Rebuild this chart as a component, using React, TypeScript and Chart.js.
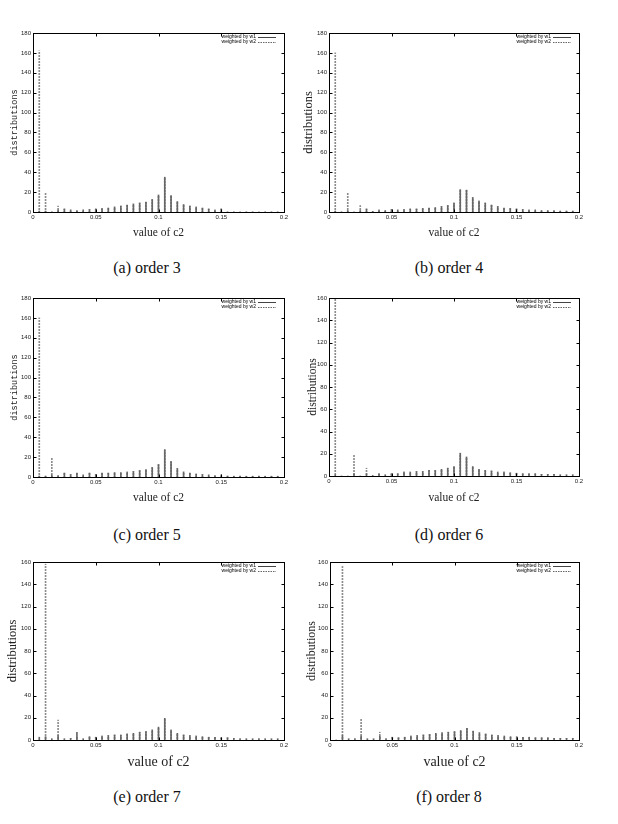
import React, { useEffect, useRef } from "react";
import { Chart, registerables } from "chart.js";

Chart.register(...registerables);

// x positions of the impulses (value of c2)
const c2Values = [
  0.005, 0.01, 0.015, 0.02, 0.025, 0.03, 0.035, 0.04, 0.045, 0.05,
  0.055, 0.06, 0.065, 0.07, 0.075, 0.08, 0.085, 0.09, 0.095, 0.1,
  0.105, 0.11, 0.115, 0.12, 0.125, 0.13, 0.135, 0.14, 0.145, 0.15,
  0.155, 0.16, 0.165, 0.17, 0.175, 0.18, 0.185, 0.19, 0.195,
];

const xTickValues = [0, 0.05, 0.1, 0.15, 0.2];
const yTicks180 = [0, 20, 40, 60, 80, 100, 120, 140, 160, 180];
const yTicks160 = [0, 20, 40, 60, 80, 100, 120, 140, 160];

const seriesLabels = ["weighted by w1", "weighted by w2"];
const xAxisTitle = "value of c2";
const yAxisTitle = "distributions";
const captions = ["(a) order 3", "(b) order 4", "(c) order 5", "(d) order 6", "(e) order 7", "(f) order 8"];

// (a) order 3
const order3W1 = [1, 1, 0, 2, 3, 2, 1.5, 2, 2.5, 3, 3.5, 4, 5, 6, 7, 8, 9, 10, 12.5, 17, 35, 16.5, 10.5, 7.5, 6, 5, 4, 3, 2, 3, 0, 0, 0, 0, 0, 0, 0, 0, 0];
const order3W2 = [162, 19, 0, 6, 3, 2, 1.5, 2, 2.5, 3, 3.5, 4, 5, 6, 7, 8, 9, 10, 12.5, 17, 34, 16.5, 10.5, 7.5, 6, 5, 4, 3, 2, 3, 0, 0, 0, 0, 0, 0, 0, 0, 0];
// (b) order 4
const order4W1 = [1, 0, 1.5, 0, 1.5, 3, 0.5, 2, 1.5, 2.5, 2, 2.5, 3, 3, 3.5, 4, 4.5, 5.5, 6.5, 9, 22.5, 22, 14.5, 11, 9, 7, 5.5, 4, 3.5, 3, 2.5, 2, 2, 1.5, 1.5, 1.5, 1, 1, 1];
const order4W2 = [160, 0, 19, 0, 6.5, 3, 0.5, 2, 1.5, 2.5, 2, 2.5, 3, 3, 3.5, 4, 4.5, 5.5, 6.5, 9, 22, 22, 14.5, 11, 9, 7, 5.5, 4, 3.5, 3, 2.5, 2, 2, 1.5, 1.5, 1.5, 1, 1, 1];
// (c) order 5
const order5W1 = [1, 1, 2, 1.5, 4, 2.5, 4, 2, 4, 2.5, 4, 4, 4.5, 4.5, 5, 5.5, 6.5, 7.5, 9.5, 12.5, 27.5, 15.5, 8.5, 5, 4, 3, 2.5, 2, 1.5, 2, 1, 0.8, 0.8, 0.8, 0.8, 0.8, 0.8, 0.8, 0.8];
const order5W2 = [160, 1, 19, 1.5, 4, 2.5, 4, 2, 4, 2.5, 4, 4, 4.5, 4.5, 5, 5.5, 6.5, 7.5, 9.5, 12.5, 27, 15.5, 8.5, 5, 4, 3, 2.5, 2, 1.5, 2, 1, 0.8, 0.8, 0.8, 0.8, 0.8, 0.8, 0.8, 0.8];
// (d) order 6
const order6W1 = [1, 0, 0, 2, 0, 2, 0.5, 2, 1, 2, 2, 3.5, 3.5, 4, 4, 5, 5, 6, 7, 8.5, 20.5, 17, 8.5, 6, 5, 4.5, 3.5, 3.5, 3, 2.5, 2, 2, 2, 1.5, 1.5, 1.5, 1, 1, 1];
const order6W2 = [160, 0, 0, 18.5, 0, 7, 0.5, 2, 1, 2, 2, 3.5, 3.5, 4, 4, 5, 5, 6, 7, 8.5, 20, 17, 8.5, 6, 5, 4.5, 3.5, 3.5, 3, 2.5, 2, 2, 2, 1.5, 1.5, 1.5, 1, 1, 1];
// (e) order 7
const order7W1 = [2.5, 3, 1, 4, 1, 1.5, 7, 1, 3, 2.5, 3.5, 4, 4.5, 4.5, 5.5, 6, 7, 7.5, 9, 11.5, 19.5, 9, 6, 4.5, 4, 3.5, 3, 2.5, 2.5, 2, 2, 1.5, 1, 1, 1, 1, 1, 1, 1];
const order7W2 = [0, 158, 1, 18, 1, 1.5, 3, 1, 3, 2.5, 3.5, 4, 4.5, 4.5, 5.5, 6, 7, 7.5, 9, 11.5, 19, 9, 6, 4.5, 4, 3.5, 3, 2.5, 2.5, 2, 2, 1.5, 1, 1, 1, 1, 1, 1, 1];
// (f) order 8
const order8W1 = [0, 4, 1, 1, 3.5, 1, 1, 3.5, 1, 2.5, 2, 2.5, 3.5, 4, 4.5, 5, 6, 6.5, 7, 7.5, 8.5, 10.5, 8, 6.5, 5.5, 4.5, 4, 3.5, 3, 3, 2.5, 2.5, 2, 2, 2, 1.5, 1.5, 1.5, 1.5];
const order8W2 = [0, 156, 1, 1, 19, 1, 1, 7, 1, 2.5, 2, 2.5, 3.5, 4, 4.5, 5, 6, 6.5, 7, 7.5, 8, 10.5, 8, 6.5, 5.5, 4.5, 4, 3.5, 3, 3, 2.5, 2.5, 2, 2, 2, 1.5, 1.5, 1.5, 1.5];

type Geom = {
  cl: number; cw: number; l: number; r: number; t: number; b: number;
  yTitleX: number; yFamily: string; ySize: number; xSize: number; xTitleY: number;
  capX: number; capY: number;
};

const panelGeoms: Geom[] = [
  { cl: 0, cw: 300, l: 33, r: 284, t: 33, b: 212, yTitleX: 15, yFamily: "Liberation Mono", ySize: 8.5, xSize: 11.5, xTitleY: 233, capX: 147, capY: 268 },
  { cl: 300, cw: 310, l: 329, r: 579, t: 33, b: 212, yTitleX: 309, yFamily: "Liberation Serif", ySize: 12.5, xSize: 11.5, xTitleY: 233, capX: 449, capY: 268 },
  { cl: 0, cw: 300, l: 33, r: 284, t: 298, b: 477, yTitleX: 15, yFamily: "Liberation Mono", ySize: 8.5, xSize: 11.5, xTitleY: 498, capX: 147, capY: 535 },
  { cl: 300, cw: 310, l: 329, r: 579, t: 298, b: 476, yTitleX: 313, yFamily: "Liberation Serif", ySize: 11.5, xSize: 11.5, xTitleY: 498, capX: 449, capY: 535 },
  { cl: 0, cw: 300, l: 33, r: 284, t: 562, b: 740, yTitleX: 13, yFamily: "Liberation Serif", ySize: 12.5, xSize: 14, xTitleY: 762, capX: 147, capY: 797 },
  { cl: 300, cw: 310, l: 330, r: 579, t: 562, b: 740, yTitleX: 312, yFamily: "Liberation Serif", ySize: 12, xSize: 14, xTitleY: 762, capX: 449, capY: 797 },
];

const panelSeries = [
  { w1: order3W1, w2: order3W2, yTicks: yTicks180 },
  { w1: order4W1, w2: order4W2, yTicks: yTicks180 },
  { w1: order5W1, w2: order5W2, yTicks: yTicks180 },
  { w1: order6W1, w2: order6W2, yTicks: yTicks160 },
  { w1: order7W1, w2: order7W2, yTicks: yTicks160 },
  { w1: order8W1, w2: order8W2, yTicks: yTicks160 },
];

const X_AXIS_H = 45;
const TOP_PAD = 20;

const framePlugin = {
  id: "gnuplotFrame",
  afterDraw(chart: any) {
    const { ctx, chartArea } = chart;
    const { left, right, top, bottom } = chartArea;
    const xs = chart.scales.x;
    const ys = chart.scales.y;
    ctx.save();
    ctx.strokeStyle = "#000";
    ctx.lineWidth = 1;
    const L = Math.round(left) + 0.5, R = Math.round(right) + 0.5, T = Math.round(top) + 0.5, B = Math.round(bottom) + 0.5;
    ctx.strokeRect(L, T, R - L, B - T);
    ctx.beginPath();
    const tl = 3;
    xs.ticks.forEach((tk: any) => {
      const px = Math.round(xs.getPixelForValue(tk.value)) + 0.5;
      ctx.moveTo(px, B); ctx.lineTo(px, B - tl);
      ctx.moveTo(px, T); ctx.lineTo(px, T + tl);
    });
    ys.ticks.forEach((tk: any) => {
      const py = Math.round(ys.getPixelForValue(tk.value)) + 0.5;
      ctx.moveTo(L, py); ctx.lineTo(L + tl, py);
      ctx.moveTo(R, py); ctx.lineTo(R - tl, py);
    });
    ctx.stroke();

    // legend (gnuplot style, top-right inside the frame)
    ctx.font = "5px 'Liberation Sans'";
    ctx.fillStyle = "#000";
    ctx.textAlign = "right";
    ctx.textBaseline = "middle";
    chart.data.datasets.forEach((ds: any, i: number) => {
      const y = top + 4 + i * 4.5;
      ctx.fillText(ds.label, right - 28, y);
      ctx.beginPath();
      ctx.strokeStyle = i === 0 ? "#444" : "#666";
      ctx.setLineDash(i === 0 ? [] : [1.5, 1]);
      ctx.moveTo(right - 26, Math.round(y) + 0.5);
      ctx.lineTo(right - 8, Math.round(y) + 0.5);
      ctx.stroke();
    });
    ctx.restore();
  },
};

function Panel({ idx }: { idx: number }) {
  const ref = useRef<HTMLCanvasElement>(null);
  const g = panelGeoms[idx];
  const s = panelSeries[idx];
  const ch = g.b - g.t + TOP_PAD + X_AXIS_H;
  const ctop = g.t - TOP_PAD;

  useEffect(() => {
    const canvas = ref.current!;
    const pc = document.createElement("canvas");
    pc.width = 1;
    pc.height = 3;
    const pctx = pc.getContext("2d")!;
    pctx.fillStyle = "#8c8c8c";
    pctx.fillRect(0, 0, 1, 2);
    const pattern = canvas.getContext("2d")!.createPattern(pc, "repeat");

    const xLh = g.xSize * 1.2;
    const yLh = g.ySize * 1.2;
    const xTitlePadBottom = (g.b + X_AXIS_H) - g.xTitleY - xLh / 2;
    const yTitlePadTop = g.yTitleX - g.cl - yLh / 2;
    const yMax = s.yTicks[s.yTicks.length - 1];

    const chart = new Chart(canvas, {
      type: "bar",
      data: {
        datasets: [
          {
            label: seriesLabels[0],
            data: c2Values.map((x, i) => ({ x, y: s.w1[i] })),
            backgroundColor: "#666666",
            borderWidth: 0,
            barThickness: 1,
            grouped: false,
            order: 0,
          },
          {
            label: seriesLabels[1],
            data: c2Values.map((x, i) => ({ x, y: s.w2[i] })),
            backgroundColor: pattern as any,
            borderWidth: 0,
            barThickness: 1,
            grouped: false,
            order: 1,
          },
        ],
      } as any,
      options: {
        animation: false,
        responsive: false,
        maintainAspectRatio: false,
        devicePixelRatio: 1,
        layout: { padding: { left: 0, top: TOP_PAD, bottom: 0, right: g.cl + g.cw - g.r } },
        plugins: { legend: { display: false }, tooltip: { enabled: false }, title: { display: false } },
        scales: {
          x: {
            type: "linear",
            min: 0,
            max: 0.2,
            offset: false,
            grid: { display: false, drawTicks: false, offset: false },
            border: { display: false },
            afterBuildTicks: (scale: any) => {
              scale.ticks = xTickValues.map((v) => ({ value: v }));
            },
            afterFit: (scale: any) => {
              scale.height = X_AXIS_H;
            },
            ticks: {
              autoSkip: false,
              maxRotation: 0,
              padding: 2,
              color: "#222",
              font: { family: "'Liberation Sans'", size: 6 },
              callback: (v: any) => String(v),
            },
            title: {
              display: true,
              text: xAxisTitle,
              color: "#222",
              font: { family: "'Liberation Serif'", size: g.xSize },
              padding: { top: 0, bottom: xTitlePadBottom },
            },
          },
          y: {
            type: "linear",
            min: 0,
            max: yMax,
            grid: { display: false, drawTicks: false },
            border: { display: false },
            afterBuildTicks: (scale: any) => {
              scale.ticks = s.yTicks.map((v) => ({ value: v }));
            },
            afterFit: (scale: any) => {
              scale.width = g.l - g.cl;
            },
            ticks: {
              autoSkip: false,
              padding: 2,
              color: "#222",
              font: { family: "'Liberation Sans'", size: 6 },
              callback: (v: any) => String(v),
            },
            title: {
              display: true,
              text: yAxisTitle,
              color: "#222",
              font: { family: `'${g.yFamily}'`, size: g.ySize },
              padding: { top: yTitlePadTop, bottom: 0 },
            },
          },
        },
      } as any,
      plugins: [framePlugin],
    });
    return () => chart.destroy();
  }, []);

  return (
    <>
      <canvas
        ref={ref}
        width={g.cw}
        height={ch}
        style={{ position: "absolute", left: g.cl, top: ctop, width: g.cw, height: ch }}
      />
      <div
        style={{
          position: "absolute",
          left: g.capX - 80,
          top: g.capY - 11,
          width: 160,
          height: 22,
          lineHeight: "22px",
          textAlign: "center",
          fontFamily: "'Liberation Serif', serif",
          fontSize: 16,
          color: "#111",
        }}
      >
        {captions[idx]}
      </div>
    </>
  );
}

export default function App() {
  return (
    <div style={{ position: "absolute", left: 0, top: 0, width: 618, height: 824, background: "#fff" }}>
      {panelGeoms.map((_, i) => (
        <Panel key={i} idx={i} />
      ))}
    </div>
  );
}
